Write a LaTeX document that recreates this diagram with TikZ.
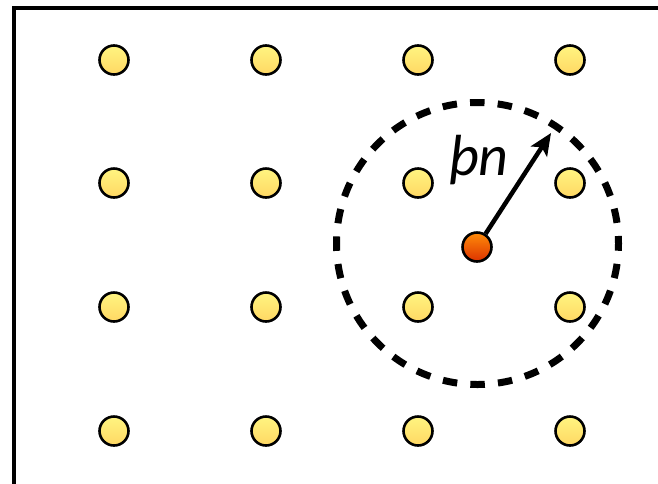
\documentclass[tikz,border=0pt]{standalone}
\usepackage{fontspec}
\newfontfamily\labelfont{Carlito}
\usetikzlibrary{arrows.meta}
\begin{document}
\begin{tikzpicture}[x=1pt,y=-1pt,
  ydot/.style={circle,draw=black,line width=2.6pt,inner sep=0pt,minimum size=29pt},
  odot/.style={circle,draw=black,line width=2.6pt,inner sep=0pt,minimum size=29pt},
  ring/.style={line width=7pt,dash pattern=on 14.5pt off 13.18pt,dash phase=7.25pt},
  radarrow/.style={line width=4.5pt,-{Stealth[length=22pt,width=19pt,inset=5pt]}},
  frame/.style={line width=3.2pt}]
\definecolor{ytop}{RGB}{255,244,128}
\definecolor{ybot}{RGB}{255,216,100}
\definecolor{otop}{RGB}{255,140,10}
\definecolor{obot}{RGB}{220,50,0}
\tikzset{ydot/.append style={top color=ytop,bottom color=ybot},
         odot/.append style={top color=otop,bottom color=obot}}
\useasboundingbox (0,0) rectangle (658,483);
\clip (0,0) rectangle (658,483);
\fill[white] (0,0) rectangle (658,483);
\draw[frame] (14,8) rectangle (720,560);
\foreach \c/\x in {1/114,2/266,3/418,4/570}{
  \foreach \r/\y in {1/60,2/183,3/307,4/431}{
    \node[ydot] (d\c\r) at (\x,\y) {};
  }
}
\draw[ring] (477.5,243.5) circle (141);
\node[odot] (c) at (477,247) {};
\coordinate (tip) at (551,133);
\draw[radarrow] (c) -- (tip);
\node[font=\labelfont\itshape\fontsize{58}{58}\selectfont,inner sep=0pt] (lbl) at (479,160) {þn};
\end{tikzpicture}
\end{document}
